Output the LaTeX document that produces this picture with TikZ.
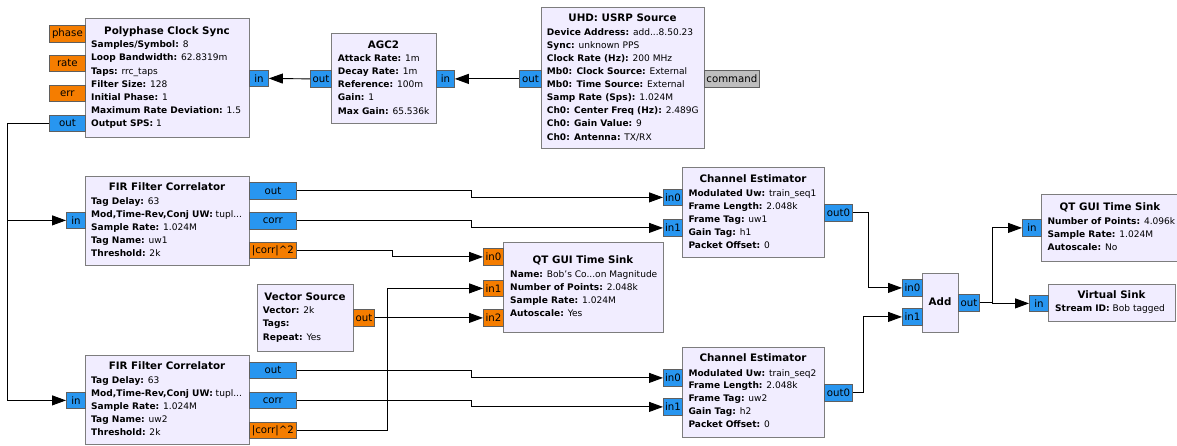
\documentclass[tikz,border=0pt]{standalone}
\usepackage{fontspec}
\setmainfont{DejaVu Sans}
\usetikzlibrary{arrows.meta}
\definecolor{blkfill}{RGB}{241,237,255}
\definecolor{blkborder}{RGB}{125,125,125}
\definecolor{portborder}{RGB}{95,95,95}
\definecolor{cplx}{RGB}{40,150,240}
\definecolor{flt}{RGB}{245,125,0}
\definecolor{msg}{RGB}{190,190,190}
\newcommand\grcfont{\fontsize{9.05}{11}\selectfont}
\newcommand\grctfont{\fontsize{10.3}{12}\selectfont\bfseries}
\newcommand\grcpfont{\fontsize{10.2}{12}\selectfont}
\newcommand\grcdots{.\kern0pt.\kern0pt.}
\tikzset{
  blk/.style={draw=blkborder,fill=blkfill,line width=0.9pt,inner sep=0pt,anchor=north west},
  port/.style={draw=portborder,line width=0.8pt,inner sep=0pt,anchor=north west,font=\grcpfont,text=black},
  btitle/.style={anchor=base,inner sep=0pt,yshift=-3.7pt,font=\grctfont},
  brow/.style={anchor=base west,inner sep=0pt,yshift=-3.3pt,font=\grcfont},
  conn/.style={draw=black,line width=0.9pt},
  aconn/.style={conn,-{Triangle[length=14pt,width=10pt]}}
}
\newcommand\grcbox[5]{\node[blk,minimum width={(#4-#2)*1pt},minimum height={(#5-#3)*1pt}] (#1) at (#2,#3) {};}
\newcommand\grcport[7]{\node[port,fill=#6,minimum width={(#4-#2)*1pt},minimum height={(#5-#3)*1pt}] (#1) at (#2,#3) {#7};}
\newcommand\grcrows[5]{\foreach \t [count=\i] in {#5} {\node[brow] (#1-\i) at ({#2},{#3+#4*(\i-1)}) {\t};}}
\begin{document}
\begin{tikzpicture}[x=1pt,y=-1pt]
\fill[white] (0,0) rectangle (1177,445);
\useasboundingbox (0,0) rectangle (1177,445);

% coordinates for bends
\coordinate (xL) at (7,0);
\coordinate (xM) at (471,0);
\coordinate (xS1) at (392,0);
\coordinate (xS2) at (387,0);
\coordinate (xA1) at (868,0);
\coordinate (xA2) at (863,0);
\coordinate (xO) at (992,0);

% ---------- Polyphase Clock Sync
\grcbox{pcs}{85}{18}{249}{137}
\node[btitle] (pcs-t) at (167,31) {Polyphase Clock Sync};
\grcrows{pcs-r}{91}{44.4}{13.2}{{\textbf{Samples/Symbol:} 8},{\textbf{Loop Bandwidth:} 62.8319m},{\textbf{Taps:} rrc\_taps},{\textbf{Filter Size:} 128},{\textbf{Initial Phase:} 1},{\textbf{Maximum Rate Deviation:} 1.5},{\textbf{Output SPS:} 1}}
\grcport{pcs-phase}{49}{25}{85}{42}{flt}{phase}
\grcport{pcs-rate}{49}{55}{85}{71}{flt}{rate}
\grcport{pcs-err}{49}{85}{85}{101}{flt}{err}
\grcport{pcs-out}{49}{115}{85}{131}{cplx}{out}
\grcport{pcs-in}{249}{70}{268}{86}{cplx}{in}

% ---------- AGC2
\grcbox{agc}{331}{33}{436}{123}
\node[btitle] (agc-t) at (383.5,44.3) {AGC2};
\grcrows{agc-r}{337.7}{58.3}{13.1}{{\textbf{Attack Rate:} 1m},{\textbf{Decay Rate:} 1m},{\textbf{Reference:} 100m},{\textbf{Gain:} 1},{\textbf{Max Gain:} 65.536k}}
\grcport{agc-out}{310}{70}{331}{87}{cplx}{out}
\grcport{agc-in}{436}{70}{454}{87}{cplx}{in}

% ---------- UHD: USRP Source
\grcbox{uhd}{541}{7}{704}{148}
\node[btitle] (uhd-t) at (622.5,18) {UHD: USRP Source};
\grcrows{uhd-r}{546.7}{32.3}{13.05}{{\textbf{Device Address:} add\grcdots8.50.23},{\textbf{Sync:} unknown PPS},{\textbf{Clock Rate (Hz):} 200 MHz},{\textbf{Mb0: Clock Source:} External},{\textbf{Mb0: Time Source:} External},{\textbf{Samp Rate (Sps):} 1.024M},{\textbf{Ch0: Center Freq (Hz):} 2.489G},{\textbf{Ch0: Gain Value:} 9},{\textbf{Ch0: Antenna:} TX/RX}}
\grcport{uhd-out}{519}{70}{541}{87}{cplx}{out}
\grcport{uhd-cmd}{704}{70}{759}{87}{msg}{command}

% ---------- FIR Filter Correlator 1
\grcbox{fir1}{85}{176}{249}{265}
\node[btitle] (fir1-t) at (167,187) {FIR Filter Correlator};
\grcrows{fir1-r}{91}{201}{13}{{\textbf{Tag Delay:} 63},{\textbf{Mod,Time-Rev,Conj UW:} tupl\grcdots},{\textbf{Sample Rate:} 1.024M},{\textbf{Tag Name:} uw1},{\textbf{Threshold:} 2k}}
\grcport{fir1-in}{66}{212}{85}{228}{cplx}{in}
\grcport{fir1-out}{249}{182}{296}{199}{cplx}{out}
\grcport{fir1-corr}{249}{212}{296}{229}{cplx}{corr}
\grcport{fir1-sq}{249}{242}{296}{258}{flt}{\textbar{}corr\textbar{}\textasciicircum{}2}

% ---------- FIR Filter Correlator 2
\grcbox{fir2}{85}{355}{249}{444}
\node[btitle] (fir2-t) at (167,366) {FIR Filter Correlator};
\grcrows{fir2-r}{91}{380}{13}{{\textbf{Tag Delay:} 63},{\textbf{Mod,Time-Rev,Conj UW:} tupl\grcdots},{\textbf{Sample Rate:} 1.024M},{\textbf{Tag Name:} uw2},{\textbf{Threshold:} 2k}}
\grcport{fir2-in}{66}{392}{85}{408}{cplx}{in}
\grcport{fir2-out}{249}{362}{296}{378}{cplx}{out}
\grcport{fir2-corr}{249}{392}{296}{408}{cplx}{corr}
\grcport{fir2-sq}{249}{422}{296}{438}{flt}{\textbar{}corr\textbar{}\textasciicircum{}2}

% ---------- Vector Source
\grcbox{vec}{257}{284}{353}{351}
\node[btitle] (vec-t) at (305,297) {Vector Source};
\grcrows{vec-r}{262.7}{310.3}{13.3}{{\textbf{Vector:} 2k},{\textbf{Tags:}},{\textbf{Repeat:} Yes}}
\grcport{vec-out}{353}{309}{374}{326}{flt}{out}

% ---------- QT GUI Time Sink 1
\grcbox{qt1}{503}{242}{663}{332}
\node[btitle] (qt1-t) at (583,260) {QT GUI Time Sink};
\grcrows{qt1-r}{510}{274}{13.2}{{\textbf{Name:} Bob's Co\grcdots on Magnitude},{\textbf{Number of Points:} 2.048k},{\textbf{Sample Rate:} 1.024M},{\textbf{Autoscale:} Yes}}
\grcport{qt1-in0}{483}{248}{503}{265}{flt}{in0}
\grcport{qt1-in1}{483}{280}{503}{296}{flt}{in1}
\grcport{qt1-in2}{483}{309}{503}{326}{flt}{in2}

% ---------- Channel Estimator 1
\grcbox{ce1}{682}{167}{824}{257}
\node[btitle] (ce1-t) at (753,179) {Channel Estimator};
\grcrows{ce1-r}{688.3}{193}{12.95}{{\textbf{Modulated Uw:} train\_seq1},{\textbf{Frame Length:} 2.048k},{\textbf{Frame Tag:} uw1},{\textbf{Gain Tag:} h1},{\textbf{Packet Offset:} 0}}
\grcport{ce1-in0}{663}{189}{682}{205}{cplx}{in0}
\grcport{ce1-in1}{663}{219}{682}{236}{cplx}{in1}
\grcport{ce1-out0}{824}{204}{852}{221}{cplx}{out0}

% ---------- Channel Estimator 2
\grcbox{ce2}{682}{347}{824}{437}
\node[btitle] (ce2-t) at (753,358) {Channel Estimator};
\grcrows{ce2-r}{688.3}{372.7}{12.95}{{\textbf{Modulated Uw:} train\_seq2},{\textbf{Frame Length:} 2.048k},{\textbf{Frame Tag:} uw2},{\textbf{Gain Tag:} h2},{\textbf{Packet Offset:} 0}}
\grcport{ce2-in0}{663}{369}{682}{386}{cplx}{in0}
\grcport{ce2-in1}{663}{398}{682}{415}{cplx}{in1}
\grcport{ce2-out0}{824}{384}{852}{401}{cplx}{out0}

% ---------- Add
\grcbox{add}{922}{273}{958}{332}
\node[btitle] (add-t) at (940,302) {Add};
\grcport{add-in0}{902}{279}{922}{296}{cplx}{in0}
\grcport{add-in1}{902}{308}{922}{325}{cplx}{in1}
\grcport{add-out}{958}{294}{979}{311}{cplx}{out}

% ---------- QT GUI Time Sink 2
\grcbox{qt2}{1041}{194}{1176.5}{261}
\node[btitle] (qt2-t) at (1110,207) {QT GUI Time Sink};
\grcrows{qt2-r}{1047.3}{221}{13.2}{{\textbf{Number of Points:} 4.096k},{\textbf{Sample Rate:} 1.024M},{\textbf{Autoscale:} No}}
\grcport{qt2-in}{1022}{219}{1041}{236}{cplx}{in}

% ---------- Virtual Sink
\grcbox{vs}{1048}{284}{1175}{321}
\node[btitle] (vs-t) at (1111.5,295) {Virtual Sink};
\grcrows{vs-r}{1055}{308.3}{13}{{\textbf{Stream ID:} Bob tagged}}
\grcport{vs-in}{1029}{295}{1048}{311}{cplx}{in}

% ---------- connections
\draw[aconn] (uhd-out.west) -- (agc-in.east);
\draw[aconn] (agc-out.west) -- (pcs-in.east);
\draw[aconn] (pcs-out.west) -- (pcs-out.west -| xL) |- (fir1-in.west);
\draw[aconn] (pcs-out.west -| xL) |- (fir2-in.west);
\draw[aconn] (fir1-out.east) -- (fir1-out.east -| xM) |- (ce1-in0.west);
\draw[aconn] (fir1-corr.east) -- (fir1-corr.east -| xM) |- (ce1-in1.west);
\draw[aconn] (fir2-out.east) -- (fir2-out.east -| xM) |- (ce2-in0.west);
\draw[aconn] (fir2-corr.east) -- (fir2-corr.east -| xM) |- (ce2-in1.west);
\draw[aconn] (fir1-sq.east) -- (fir1-sq.east -| xS1) |- (qt1-in0.west);
\draw[aconn] (fir2-sq.east) -- (fir2-sq.east -| xS2) |- (qt1-in1.west);
\draw[aconn] (vec-out.east) -- (qt1-in2.west);
\draw[aconn] (ce1-out0.east) -- (ce1-out0.east -| xA1) |- (add-in0.west);
\draw[aconn] (ce2-out0.east) -- (ce2-out0.east -| xA2) |- (add-in1.west);
\draw[aconn] (add-out.east) -- (add-out.east -| xO) |- (qt2-in.west);
\draw[aconn] (add-out.east -| xO) |- (vs-in.west);
\end{tikzpicture}
\end{document}
